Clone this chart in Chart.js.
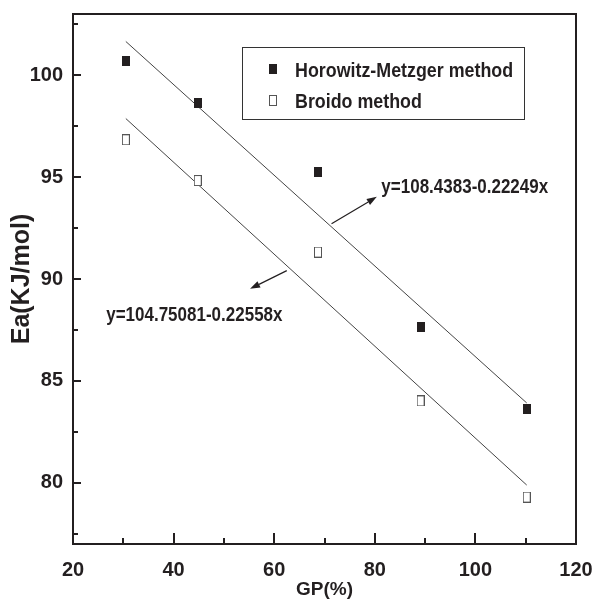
<!DOCTYPE html>
<html>
<head>
<meta charset="utf-8">
<script src="https://cdn.jsdelivr.net/npm/chart.js@4.4.0/dist/chart.umd.min.js"></script>
<style>
html, body { margin: 0; padding: 0; background: #fff; }
#wrap { width: 592px; height: 601px; }
</style>
</head>
<body>
<div id="wrap"><canvas id="c"></canvas></div>
<script>
// activation energy vs grafting percentage, two evaluation methods
var gp = [30.5, 44.8, 68.7, 89.1, 110.2];
var eaHorowitz = [100.70, 98.63, 95.23, 87.63, 83.61];
var eaBroido = [96.83, 94.83, 91.32, 84.02, 79.30];
// linear fits: [intercept, slope]
var fitHorowitz = [108.4383, -0.22249];
var fitBroido = [104.75081, -0.22558];
var seriesNames = ['Horowitz-Metzger method', 'Broido method'];
var xTicks = [20, 40, 60, 80, 100, 120];
var yTicks = [80, 85, 90, 95, 100];

var INK = '#231f20';
var SANS = "'Liberation Sans', Arial, sans-serif";
var SQUEEZE = 0.85; // condensed look for the in-plot text

function toPoints(xs, ys) {
	var out = [];
	for (var i = 0; i < xs.length; i++) out.push({x: xs[i], y: ys[i]});
	return out;
}

function fitLine(fit) {
	var x0 = gp[0], x1 = gp[gp.length - 1];
	return [{x: x0, y: fit[0] + fit[1] * x0}, {x: x1, y: fit[0] + fit[1] * x1}];
}

function fitLabel(fit) {
	return 'y=' + fit[0] + (fit[1] < 0 ? '-' : '+') + Math.abs(fit[1]) + 'x';
}

function makeMarker(filled) {
	var c = document.createElement('canvas');
	c.width = 8; c.height = filled ? 10 : 11;
	var g = c.getContext('2d');
	if (filled) {
		g.fillStyle = INK;
		g.fillRect(0, 0, c.width, c.height);
	} else {
		g.fillStyle = '#fff';
		g.fillRect(0, 0, c.width, c.height);
		g.strokeStyle = '#555';
		g.lineWidth = 1;
		g.strokeRect(0.5, 0.5, c.width - 1, c.height - 1);
	}
	return c;
}
var markerFilled = makeMarker(true);
var markerOpen = makeMarker(false);

function narrowText(ctx, txt, x, y) {
	ctx.save();
	ctx.translate(x, y);
	ctx.scale(SQUEEZE, 1);
	ctx.fillText(txt, 0, 0);
	ctx.restore();
}

// frame + inward ticks on left/bottom axes
var frameTicks = {
	id: 'frameTicks',
	afterDraw: function(chart) {
		var ctx = chart.ctx, a = chart.chartArea;
		var xs = chart.scales.x, ys = chart.scales.y;
		ctx.save();
		ctx.strokeStyle = INK;
		ctx.lineWidth = 2;
		ctx.strokeRect(a.left, a.top, a.right - a.left, a.bottom - a.top);
		ctx.beginPath();
		var k, p, v, step;
		step = xs.ticks[1].value - xs.ticks[0].value;
		for (k = 0; k < xs.ticks.length; k++) {
			v = xs.ticks[k].value;
			p = Math.round(xs.getPixelForValue(v));
			ctx.moveTo(p, a.bottom); ctx.lineTo(p, a.bottom - 11);
			if (v + step / 2 < xs.max) {
				p = Math.round(xs.getPixelForValue(v + step / 2));
				ctx.moveTo(p, a.bottom); ctx.lineTo(p, a.bottom - 6);
			}
		}
		step = ys.ticks[1].value - ys.ticks[0].value;
		for (k = 0; k < ys.ticks.length; k++) {
			v = ys.ticks[k].value;
			p = Math.round(ys.getPixelForValue(v));
			ctx.moveTo(a.left, p); ctx.lineTo(a.left + 8, p);
			[v - step / 2, v + step / 2].forEach(function(m, j) {
				if (j === 0 && k > 0) return; // shared midpoint already drawn
				if (m > ys.min && m < ys.max) {
					var q = Math.round(ys.getPixelForValue(m));
					ctx.moveTo(a.left, q); ctx.lineTo(a.left + 5, q);
				}
			});
		}
		ctx.lineWidth = 2;
		ctx.stroke();
		ctx.restore();
	}
};

// boxed legend inside the plot
var boxLegend = {
	id: 'boxLegend',
	afterDraw: function(chart) {
		var ctx = chart.ctx, a = chart.chartArea;
		var left = a.left + 169, top = a.top + 33, w = 282, h = 72;
		ctx.save();
		ctx.strokeStyle = '#333';
		ctx.lineWidth = 1;
		ctx.strokeRect(left + 0.5, top + 0.5, w, h);
		var marks = [markerFilled, markerOpen];
		ctx.font = 'bold 21px ' + SANS;
		ctx.fillStyle = INK;
		ctx.textBaseline = 'middle';
		for (var i = 0; i < seriesNames.length; i++) {
			var cy = top + 22 + i * 31;
			var m = marks[i];
			ctx.drawImage(m, Math.round(left + 31 - m.width / 2), Math.round(cy - m.height / 2));
			narrowText(ctx, seriesNames[i], left + 53, cy + 2);
		}
		ctx.restore();
	}
};

function arrow(ctx, x0, y0, x1, y1) {
	var ang = Math.atan2(y1 - y0, x1 - x0), len = 10, half = 3.5;
	var bx = x1 - len * Math.cos(ang), by = y1 - len * Math.sin(ang);
	ctx.beginPath();
	ctx.moveTo(x0, y0); ctx.lineTo(bx, by);
	ctx.stroke();
	ctx.beginPath();
	ctx.moveTo(x1, y1);
	ctx.lineTo(bx - half * Math.sin(ang), by + half * Math.cos(ang));
	ctx.lineTo(bx + half * Math.sin(ang), by - half * Math.cos(ang));
	ctx.closePath();
	ctx.fill();
}

// fit equations with pointer arrows, placed in data coordinates
var fitNotes = {
	id: 'fitNotes',
	afterDatasetsDraw: function(chart) {
		var ctx = chart.ctx, xs = chart.scales.x, ys = chart.scales.y;
		function px(x) { return xs.getPixelForValue(x); }
		function py(y) { return ys.getPixelForValue(y); }
		ctx.save();
		ctx.strokeStyle = INK;
		ctx.fillStyle = INK;
		ctx.lineWidth = 1.2;
		arrow(ctx, px(71.4), py(92.71), px(80.4), py(94.03));
		arrow(ctx, px(62.5), py(90.41), px(55.2), py(89.52));
		ctx.font = 'bold 20px ' + SANS;
		ctx.textBaseline = 'middle';
		narrowText(ctx, fitLabel(fitHorowitz), px(81.3), py(94.52) + 1);
		narrowText(ctx, fitLabel(fitBroido), px(26.6), py(88.25) + 1);
		ctx.restore();
	}
};

function fixTicks(list) {
	return function(scale) {
		scale.ticks = list.map(function(v) { return {value: v}; });
	};
}

new Chart(document.getElementById('c'), {
	type: 'scatter',
	data: {
		datasets: [
			{
				label: seriesNames[0],
				data: toPoints(gp, eaHorowitz),
				pointStyle: markerFilled,
				pointRadius: 5,
				showLine: false
			},
			{
				label: seriesNames[1],
				data: toPoints(gp, eaBroido),
				pointStyle: markerOpen,
				pointRadius: 5,
				showLine: false
			},
			{
				label: 'fit1',
				data: fitLine(fitHorowitz),
				showLine: true,
				borderColor: '#444',
				borderWidth: 1,
				pointRadius: 0
			},
			{
				label: 'fit2',
				data: fitLine(fitBroido),
				showLine: true,
				borderColor: '#444',
				borderWidth: 1,
				pointRadius: 0
			}
		]
	},
	options: {
		responsive: true,
		maintainAspectRatio: false,
		animation: false,
		layout: { padding: { left: 0, top: 14, right: 16, bottom: 0 } },
		plugins: {
			legend: { display: false },
			tooltip: { enabled: false }
		},
		scales: {
			x: {
				type: 'linear',
				min: 20, max: 120,
				grid: { display: false, drawTicks: false },
				border: { display: false },
				afterBuildTicks: fixTicks(xTicks),
				ticks: {
					padding: 14,
					color: INK,
					maxRotation: 0,
					font: { family: SANS, size: 20, weight: 'bold' }
				},
				title: {
					display: true,
					text: 'GP(%)',
					color: INK,
					font: { family: SANS, size: 19, weight: 'bold' },
					padding: { top: 0, bottom: 0 }
				},
				afterFit: function(s) {
					s.height = 57;
					s.paddingLeft = 0;
					s.paddingRight = 0;
				}
			},
			y: {
				type: 'linear',
				min: 77, max: 103,
				grid: { display: false, drawTicks: false },
				border: { display: false },
				afterBuildTicks: fixTicks(yTicks),
				ticks: {
					padding: 10,
					color: INK,
					font: { family: SANS, size: 20, weight: 'bold' }
				},
				title: {
					display: true,
					text: 'Ea(KJ/mol)',
					color: INK,
					font: { family: SANS, size: 25, weight: 'bold' },
					padding: { top: 7, bottom: 0 }
				},
				afterFit: function(s) {
					s.width = 73;
					s.paddingTop = 0;
					s.paddingBottom = 0;
				}
			}
		}
	},
	plugins: [frameTicks, boxLegend, fitNotes]
});
</script>
</body>
</html>
